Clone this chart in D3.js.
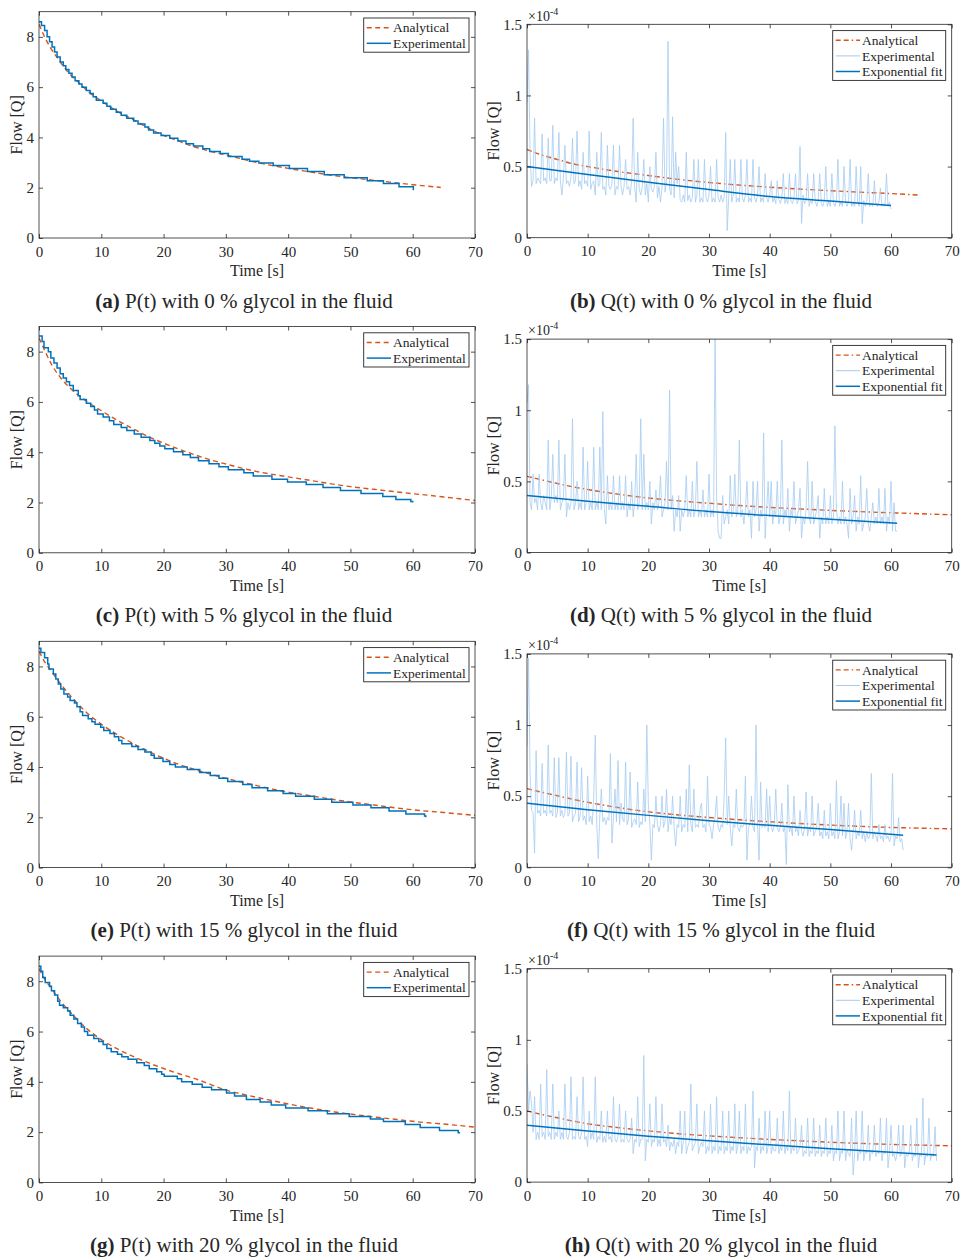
<!DOCTYPE html>
<html>
<head>
<meta charset="utf-8">
<script src="https://cdn.jsdelivr.net/npm/d3@7"></script>
<style>
  body { margin: 0; background: #fff; }
  svg text { font-family: "Liberation Serif", "Times New Roman", serif; fill: #262626; }
</style>
</head>
<body>
<script>
// ---- tick values ----
var timeTicks = [0, 10, 20, 30, 40, 50, 60, 70];
var pFlowTicks = [0, 2, 4, 6, 8];
var qFlowTicks = [0, 0.5, 1, 1.5];

// ---- captions ----
var glycolLevels = [0, 5, 15, 20];
var pLetters = ["a", "c", "e", "g"];
var qLetters = ["b", "d", "f", "h"];

// ---- P(t) analytical curves [t, flow] ----
var pAnalytical0 = [[0,8.5],[1,7.95],[2,7.5],[3,7.15],[4,6.8],[5,6.5],[6.5,6.15],[8,5.8],[10,5.45],[12.5,5.05],[15,4.72],
  [17.5,4.38],[20,4.08],[22.5,3.85],[25,3.62],[27.5,3.45],[30,3.3],[32.5,3.15],[35,3.0],[37.5,2.88],[40,2.77],
  [42.5,2.67],[45,2.57],[47.5,2.48],[50,2.4],[52.5,2.33],[55,2.26],[57.5,2.19],[60,2.12],[62.5,2.06],[64.5,2.01]];
var pAnalytical1 = [[0,8.55],[1,8.0],[2,7.5],[3.5,6.95],[5,6.55],[7.5,6.05],[10,5.65],[12.5,5.28],[15,4.95],[17.5,4.63],
  [20,4.36],[22.5,4.12],[25,3.9],[27.5,3.7],[30,3.53],[32.5,3.37],[35,3.23],[37.5,3.12],[40,3.02],[42.5,2.92],
  [45,2.82],[47.5,2.72],[50,2.63],[52.5,2.56],[55,2.49],[57.5,2.42],[60,2.35],[62.5,2.29],[65,2.22],[67.5,2.15],[70,2.08]];
var pAnalytical2 = [[0,8.6],[1,8.15],[2,7.8],[3.5,7.3],[5,6.85],[7.5,6.2],[10,5.7],[12.5,5.3],[15,4.95],[17.5,4.63],
  [20,4.35],[22.5,4.1],[25,3.9],[27.5,3.72],[30,3.55],[32.5,3.4],[35,3.26],[37.5,3.12],[40,3.0],[42.5,2.9],
  [45,2.8],[47.5,2.7],[50,2.61],[52.5,2.53],[55,2.45],[57.5,2.37],[60,2.3],[62.5,2.24],[65,2.19],[67.5,2.13],[70,2.08]];
var pAnalytical3 = [[0,8.5],[1,8.05],[2.2,7.64],[3.5,7.2],[5,6.78],[7.5,6.15],[10,5.68],[12.5,5.32],[15,5.02],[17.5,4.76],
  [20,4.53],[22.5,4.32],[25,4.13],[27.5,3.9],[30,3.67],[32.5,3.52],[35,3.38],[37.5,3.25],[40,3.12],[42.5,3.0],
  [45,2.9],[47.5,2.8],[50,2.72],[52.5,2.64],[55,2.57],[57.5,2.5],[60,2.43],[62.5,2.37],[65,2.32],[67.5,2.26],[70,2.2]];

// ---- P(t) experimental (stepped) [t, flow] ----
var pExperimental0 = [[0,8.6],[0.4,8.45],[0.9,8.25],[1.3,8.0],[1.7,7.8],[2.1,7.6],[2.5,7.4],[2.9,7.2],[3.4,7.0],[3.9,6.85],
  [4.3,6.7],[4.8,6.55],[5.3,6.4],[5.8,6.25],[6.4,6.12],[6.9,6.0],[7.6,5.87],[8.2,5.75],[8.7,5.62],[9.2,5.48],
  [10.3,5.36],[10.9,5.24],[11.5,5.12],[12.4,5.0],[13.2,4.88],[14.1,4.76],[15.2,4.65],[15.9,4.53],[17.0,4.41],[17.6,4.3],
  [18.4,4.18],[19.6,4.08],[21.0,3.97],[22.3,3.86],[23.6,3.75],[24.8,3.66],[26.3,3.55],[27.4,3.44],[29.1,3.36],[30.4,3.24],
  [32.6,3.13],[33.8,3.05],[35.3,2.98],[37.6,2.88],[40.2,2.76],[43.1,2.64],[45.8,2.52],[49.0,2.4],[52.7,2.28],[55.3,2.17],
  [57.8,2.04],[60.1,1.93],[60.2,1.93]];
var pExperimental1 = [[0,8.62],[0.5,8.4],[0.8,8.15],[1.5,8.0],[1.9,7.75],[2.4,7.55],[2.9,7.35],[3.4,7.12],[3.9,6.95],[4.4,6.8],
  [4.9,6.65],[5.5,6.45],[6.3,6.25],[6.6,6.1],[7.6,5.95],[8.3,5.82],[8.9,5.68],[9.4,5.52],[10.3,5.4],[11.3,5.25],
  [12.0,5.1],[13.2,4.98],[14.1,4.86],[15.3,4.72],[16.4,4.6],[17.8,4.47],[18.6,4.36],[19.4,4.25],[20.2,4.14],[21.6,4.02],
  [23.1,3.9],[24.3,3.79],[25.6,3.66],[27.3,3.54],[28.9,3.42],[30.4,3.3],[32.9,3.18],[34.4,3.05],[37.4,2.93],[39.9,2.82],
  [42.9,2.72],[45.6,2.6],[48.4,2.48],[51.7,2.36],[55.2,2.24],[57.3,2.12],[59.7,2.04],[60,2.0]];
var pExperimental2 = [[0,8.72],[0.3,8.55],[0.9,8.35],[1.4,8.1],[1.6,7.9],[2.3,7.7],[2.7,7.5],[3.1,7.3],[3.5,7.1],[4.0,6.9],
  [4.6,6.78],[5.0,6.65],[5.7,6.55],[6.1,6.4],[6.6,6.2],[7.0,6.05],[7.9,5.92],[8.5,5.8],[9.0,5.7],[9.9,5.58],
  [10.4,5.45],[11.4,5.33],[12.1,5.2],[12.8,5.05],[13.3,4.93],[14.9,4.82],[15.9,4.7],[17.0,4.6],[18.0,4.47],[18.5,4.35],
  [19.9,4.22],[21.0,4.1],[21.9,4.0],[23.8,3.9],[25.8,3.78],[27.5,3.66],[28.9,3.55],[30.3,3.42],[32.7,3.3],[34.2,3.18],
  [36.7,3.06],[39.2,2.95],[41.2,2.84],[44.2,2.72],[47.0,2.6],[50.4,2.49],[53.3,2.38],[56.2,2.25],[58.9,2.13],[61.9,2.05],[62.1,2.0]];
var pExperimental3 = [[0,8.6],[0.3,8.4],[0.6,8.15],[1.0,7.95],[1.7,7.8],[2.0,7.62],[2.5,7.45],[3.0,7.2],[3.3,7.05],[3.9,6.95],
  [4.6,6.82],[5.0,6.65],[5.6,6.5],[6.2,6.32],[6.8,6.18],[7.3,6.0],[7.8,5.85],[8.8,5.72],[9.6,5.6],[10.3,5.48],
  [10.9,5.33],[11.6,5.2],[12.6,5.1],[13.3,5.0],[14.3,4.9],[15.7,4.76],[16.9,4.65],[17.7,4.52],[18.9,4.4],[19.7,4.3],
  [20.1,4.22],[22.2,4.12],[22.9,4.0],[24.6,3.9],[26.2,3.78],[27.7,3.68],[30.1,3.56],[31.4,3.44],[33.3,3.3],[35.5,3.2],
  [37.3,3.08],[39.6,2.96],[43.2,2.85],[46.3,2.73],[49.8,2.62],[53.2,2.52],[55.3,2.42],[58.8,2.3],[61.2,2.18],[64.3,2.06],
  [67.3,1.97],[67.5,1.95]];

// ---- Q(t) analytical curves [t, flow x1e-4] ----
var qAnalytical0 = [[0,0.62],[2.5,0.58],[5,0.55],[7.5,0.52],[10,0.5],[15,0.465],[20,0.437],[25,0.41],[30,0.388],[35,0.37],
  [40,0.355],[45,0.342],[50,0.33],[55,0.32],[60,0.31],[64.5,0.3]];
var qAnalytical1 = [[0,0.535],[2.5,0.51],[5,0.485],[7.5,0.462],[10,0.443],[15,0.41],[20,0.383],[25,0.363],[30,0.346],[35,0.33],
  [40,0.317],[45,0.306],[50,0.296],[55,0.287],[60,0.279],[65,0.272],[70,0.265]];
var qAnalytical2 = [[0,0.553],[2.5,0.527],[5,0.503],[7.5,0.478],[10,0.457],[15,0.42],[20,0.39],[25,0.368],[30,0.35],[35,0.334],
  [40,0.32],[45,0.308],[50,0.297],[55,0.288],[60,0.28],[65,0.275],[70,0.27]];
var qAnalytical3 = [[0,0.5],[2.5,0.475],[5,0.452],[7.5,0.43],[10,0.41],[15,0.383],[20,0.36],[25,0.34],[30,0.325],[35,0.312],
  [40,0.3],[45,0.29],[50,0.28],[55,0.272],[60,0.265],[65,0.26],[70,0.255]];

// ---- Q(t) exponential fits [t, flow x1e-4] ----
var qFit0 = [[0,0.5],[10,0.445],[20,0.39],[30,0.338],[40,0.29],[50,0.258],[60,0.227]];
var qFit1 = [[0,0.4],[10,0.36],[20,0.325],[30,0.288],[40,0.26],[50,0.233],[61,0.205]];
var qFit2 = [[0,0.45],[10,0.405],[20,0.365],[30,0.328],[40,0.295],[50,0.265],[62,0.225]];
var qFit3 = [[0,0.4],[10,0.36],[20,0.322],[30,0.29],[40,0.262],[50,0.235],[60,0.21],[67.5,0.19]];

// ---- Q(t) experimental samples (flow x1e-4), one value every qSampleStep seconds ----
var qSampleStep = 0.25;
var qExperimental0 = [
  0.95,1.32,0.60,0.36, 0.40,0.84,0.38,0.42, 0.40,0.38,0.73,0.40, 0.42,0.38,0.70,0.40, 0.40,0.79,0.38,0.42,
  0.40,0.74,0.40,0.30, 0.42,0.65,0.38,0.40, 0.36,0.42,0.70,0.38, 0.40,0.75,0.36,0.40, 0.34,0.60,0.38,0.40,
  0.36,0.75,0.34,0.38, 0.40,0.30,0.60,0.36, 0.38,0.74,0.34,0.36, 0.30,0.65,0.36,0.34, 0.38,0.65,0.30,0.36,
  0.34,0.65,0.36,0.30, 0.36,0.55,0.34,0.36, 0.30,0.40,0.84,0.35, 0.25,0.60,0.34,0.30, 0.36,0.55,0.30,0.38,
  0.25,0.50,0.34,0.32, 0.36,0.60,0.28,0.36, 0.25,0.35,0.84,0.32, 0.40,1.38,0.35,0.30, 0.85,0.28,0.60,0.38,
  0.50,0.26,0.25,0.30, 0.25,0.60,0.26,0.30, 0.25,0.28,0.55,0.25, 0.30,0.55,0.25,0.28, 0.25,0.55,0.28,0.25,
  0.30,0.50,0.25,0.28, 0.25,0.55,0.28,0.25, 0.30,0.25,0.28,0.74, 0.05,0.28,0.55,0.25, 0.30,0.55,0.25,0.28,
  0.25,0.55,0.28,0.25, 0.30,0.55,0.25,0.28, 0.25,0.55,0.28,0.25, 0.30,0.50,0.25,0.28, 0.25,0.45,0.28,0.25,
  0.30,0.40,0.25,0.28, 0.24,0.40,0.27,0.24, 0.28,0.45,0.24,0.27, 0.24,0.45,0.26,0.24, 0.28,0.45,0.24,0.26,
  0.64,0.10,0.30,0.24, 0.26,0.45,0.22,0.26, 0.24,0.45,0.26,0.22, 0.26,0.45,0.24,0.22, 0.26,0.50,0.22,0.26,
  0.22,0.45,0.25,0.22, 0.26,0.55,0.22,0.25, 0.22,0.50,0.25,0.22, 0.26,0.55,0.22,0.24, 0.22,0.50,0.25,0.22,
  0.50,0.10,0.26,0.22, 0.25,0.45,0.22,0.24, 0.22,0.40,0.24,0.22, 0.25,0.35,0.22,0.24, 0.22,0.45,0.22,0.25,
  0.20];
var qExperimental1 = [
  1.05,1.18,0.35,0.30, 0.55,0.35,0.38,0.30, 0.55,0.35,0.30,0.40, 0.35,0.30,0.79,0.30, 0.38,0.69,0.35,0.40,
  0.35,0.79,0.30,0.35, 0.38,0.69,0.25,0.35, 0.30,0.35,0.94,0.30, 0.35,0.50,0.30,0.35, 0.30,0.74,0.30,0.35,
  0.64,0.30,0.35,0.30, 0.74,0.30,0.35,0.30, 0.74,0.30,0.99,0.30, 0.20,0.54,0.30,0.35, 0.30,0.54,0.30,0.35,
  0.30,0.54,0.30,0.35, 0.30,0.54,0.25,0.35, 0.30,0.50,0.25,0.35, 0.69,0.30,0.35,0.94, 0.30,0.69,0.30,0.35,
  0.30,0.50,0.20,0.35, 0.30,0.44,0.30,0.35, 0.54,0.25,0.30,0.35, 0.64,0.30,1.14,0.30, 0.40,0.15,0.30,0.25,
  0.40,0.15,0.30,0.25, 0.30,0.54,0.25,0.30, 0.25,0.50,0.25,0.30, 0.64,0.25,0.30,0.25, 0.44,0.25,0.30,0.25,
  0.55,0.25,0.30,0.25, 1.50,0.40,0.15,0.10, 0.10,0.40,0.20,0.25, 0.30,0.20,0.54,0.25, 0.30,0.55,0.25,0.30,
  0.79,0.25,0.30,0.20, 0.30,0.50,0.25,0.30, 0.10,0.50,0.25,0.30, 0.50,0.15,0.30,0.25, 0.84,0.10,0.30,0.50,
  0.25,0.50,0.20,0.30, 0.25,0.50,0.20,0.25, 0.79,0.20,0.30,0.25, 0.45,0.15,0.30,0.25, 0.50,0.20,0.25,0.30,
  0.45,0.10,0.25,0.20, 0.30,0.64,0.25,0.20, 0.50,0.20,0.25,0.30, 0.40,0.10,0.25,0.20, 0.45,0.20,0.25,0.20,
  0.40,0.20,0.25,0.89, 0.30,0.20,0.25,0.20, 0.50,0.20,0.25,0.20, 0.10,0.45,0.20,0.25, 0.40,0.15,0.25,0.20,
  0.54,0.15,0.20,0.25, 0.45,0.20,0.15,0.25, 0.35,0.20,0.25,0.20, 0.45,0.20,0.25,0.20, 0.45,0.15,0.25,0.20,
  0.50,0.15,0.35,0.15, 0.15];
var qExperimental2 = [
  0.85,1.47,0.68,0.40, 0.38,0.10,0.82,0.38, 0.40,0.36,0.73,0.38, 0.40,0.36,0.86,0.38, 0.40,0.36,0.77,0.35,
  0.38,0.77,0.36,0.40, 0.35,0.38,0.81,0.36, 0.38,0.78,0.32,0.36, 0.38,0.74,0.32,0.36, 0.70,0.33,0.36,0.30,
  0.64,0.32,0.36,0.30, 0.50,0.93,0.30,0.06, 0.36,0.55,0.32,0.35, 0.30,0.35,0.33,0.80, 0.17,0.35,0.55,0.32,
  0.75,0.30,0.45,0.34, 0.32,0.74,0.30,0.34, 0.67,0.28,0.32,0.34, 0.30,0.60,0.28,0.32, 0.30,0.55,0.32,1.00,
  0.45,0.30,0.05,0.30, 0.28,0.50,0.30,0.25, 0.30,0.50,0.28,0.32, 0.55,0.25,0.35,0.30, 0.50,0.28,0.15,0.30,
  0.28,0.50,0.25,0.30, 0.28,0.55,0.25,0.72, 0.30,0.25,0.55,0.28, 0.30,0.28,0.40,0.45, 0.28,0.30,0.25,0.64,
  0.30,0.28,0.20,0.30, 0.35,0.50,0.28,0.25, 0.30,0.28,0.50,0.91, 0.30,0.50,0.28,0.15, 0.30,0.28,0.55,0.28,
  0.25,0.30,0.28,0.30, 0.64,0.05,0.28,0.30, 0.50,0.28,0.25,1.00, 0.30,0.05,0.60,0.28, 0.30,0.28,0.55,0.25,
  0.50,0.28,0.25,0.30, 0.55,0.28,0.25,0.28, 0.45,0.25,0.28,0.02, 0.58,0.25,0.28,0.22, 0.50,0.25,0.28,0.22,
  0.40,0.25,0.22,0.28, 0.53,0.22,0.28,0.25, 0.50,0.22,0.25,0.28, 0.45,0.22,0.25,0.20, 0.40,0.22,0.25,0.20,
  0.45,0.22,0.25,0.20, 0.61,0.20,0.25,0.50, 0.22,0.45,0.20,0.25, 0.45,0.20,0.12,0.25, 0.40,0.20,0.25,0.22,
  0.40,0.20,0.25,0.18, 0.25,0.20,0.22,0.66, 0.20,0.25,0.22,0.18, 0.30,0.20,0.22,0.18, 0.30,0.20,0.22,0.18,
  0.22,0.66,0.15,0.22, 0.20,0.35,0.18,0.20, 0.12];
var qExperimental3 = [
  0.83,0.50,0.64,0.55, 0.35,0.60,0.30,0.35, 0.30,0.69,0.32,0.35, 0.30,0.79,0.32,0.35, 0.30,0.69,0.30,0.35,
  0.32,0.50,0.30,0.35, 0.30,0.69,0.32,0.30, 0.35,0.74,0.30,0.32, 0.30,0.60,0.32,0.30, 0.35,0.74,0.30,0.32,
  0.25,0.50,0.30,0.35, 0.30,0.74,0.28,0.32, 0.30,0.50,0.28,0.32, 0.28,0.50,0.30,0.32, 0.28,0.60,0.30,0.28,
  0.32,0.55,0.28,0.30, 0.28,0.50,0.30,0.28, 0.30,0.45,0.20,0.30, 0.28,0.60,0.25,0.30, 0.30,0.89,0.15,0.30,
  0.28,0.55,0.25,0.30, 0.28,0.60,0.25,0.30, 0.25,0.55,0.28,0.30, 0.25,0.40,0.22,0.28, 0.25,0.30,0.20,0.28,
  0.25,0.50,0.20,0.28, 0.50,0.20,0.25,0.28, 0.69,0.22,0.25,0.28, 0.55,0.20,0.25,0.28, 0.25,0.50,0.20,0.25,
  0.22,0.55,0.20,0.25, 0.22,0.60,0.20,0.25, 0.22,0.50,0.20,0.25, 0.22,0.50,0.20,0.25, 0.22,0.55,0.20,0.25,
  0.50,0.20,0.25,0.22, 0.55,0.20,0.25,0.22, 0.25,0.64,0.10,0.25, 0.22,0.45,0.20,0.25, 0.22,0.50,0.20,0.25,
  0.50,0.20,0.25,0.22, 0.22,0.45,0.20,0.25, 0.22,0.50,0.20,0.25, 0.22,0.64,0.20,0.25, 0.22,0.45,0.20,0.22,
  0.25,0.40,0.18,0.22, 0.20,0.45,0.18,0.22, 0.20,0.45,0.18,0.22, 0.20,0.40,0.18,0.22, 0.20,0.45,0.18,0.22,
  0.20,0.40,0.15,0.22, 0.20,0.50,0.15,0.22, 0.20,0.50,0.15,0.22, 0.20,0.18,0.45,0.05, 0.20,0.50,0.15,0.22,
  0.20,0.50,0.15,0.22, 0.20,0.40,0.15,0.22, 0.20,0.40,0.18,0.22, 0.20,0.45,0.15,0.22, 0.20,0.45,0.10,0.20,
  0.40,0.18,0.20,0.15, 0.20,0.40,0.18,0.20, 0.40,0.10,0.20,0.18, 0.20,0.40,0.15,0.20, 0.18,0.45,0.10,0.20,
  0.18,0.59,0.12,0.20, 0.18,0.45,0.15,0.20, 0.18,0.39,0.15];

var pAnalytical = [pAnalytical0, pAnalytical1, pAnalytical2, pAnalytical3];
var pExperimental = [pExperimental0, pExperimental1, pExperimental2, pExperimental3];
var qAnalytical = [qAnalytical0, qAnalytical1, qAnalytical2, qAnalytical3];
var qFit = [qFit0, qFit1, qFit2, qFit3];
var qExperimental = [qExperimental0, qExperimental1, qExperimental2, qExperimental3];

// ---- layout ----
var width = 964, height = 1260;
var rowStep = 314.8;
var pFrame = {left: 39, top: 11.7, width: 436, height: 226.3, captionX: 244};
var qFrame = {left: 527, top: 24.3, width: 424.7, height: 213.4, captionX: 721};

var colorAnalytical = "#D95319",
    colorExperimental = "#0072BD",
    colorNoisy = "#a6cbf0",
    axisColor = "#262626";

var qDash = "5,3,5,3,1.5,3";

var svg = d3.select("body").append("svg")
    .attr("width", width)
    .attr("height", height);

var defs = svg.append("defs");

function drawAxes(g, x, y, yTicks, frame){
    var fmt = d3.format("~g");
    var bottom = g.append("g")
        .attr("transform", "translate(0," + frame.height + ")")
        .call(d3.axisBottom(x).tickValues(timeTicks).tickSize(-4).tickPadding(8).tickFormat(fmt));
    var top = g.append("g")
        .call(d3.axisTop(x).tickValues(timeTicks).tickSize(-4).tickFormat(""));
    var left = g.append("g")
        .call(d3.axisLeft(y).tickValues(yTicks).tickSize(-4).tickPadding(5).tickFormat(fmt));
    var right = g.append("g")
        .attr("transform", "translate(" + frame.width + ",0)")
        .call(d3.axisRight(y).tickValues(yTicks).tickSize(-4).tickFormat(""));

    [bottom, top, left, right].forEach(function(a){
        a.select(".domain").remove();
        a.selectAll(".tick line").attr("stroke", axisColor).attr("stroke-width", 0.8);
        a.attr("font-size", 15).attr("font-family", null);
        a.selectAll("text").attr("fill", "#333");
    });

    //box round the plot area
    g.append("rect")
        .attr("width", frame.width)
        .attr("height", frame.height)
        .attr("fill", "none")
        .attr("stroke", axisColor)
        .attr("stroke-width", 0.8);
}

function drawLabels(g, frame, row, letter, kind, labelOffset){
    g.append("text")
        .attr("x", frame.width / 2)
        .attr("y", frame.height + 38.5)
        .attr("text-anchor", "middle")
        .attr("font-size", 16)
        .text("Time [s]");

    g.append("text")
        .attr("transform", "translate(" + (-labelOffset) + "," + (frame.height / 2) + ") rotate(-90)")
        .attr("text-anchor", "middle")
        .attr("font-size", 16)
        .text("Flow [Q]");

    var caption = svg.append("text")
        .attr("x", frame.captionX)
        .attr("y", 307.5 + row * rowStep)
        .attr("text-anchor", "middle")
        .attr("font-size", 21);
    caption.append("tspan").attr("font-weight", "bold").text("(" + letter + ")");
    caption.append("tspan").text(" " + kind + "(t) with " + glycolLevels[row] + " % glycol in the fluid");
}

function drawLegend(g, frame, entries, boxW){
    var rowH = 15.6;
    var boxH = entries.length * rowH + 3;
    var lg = g.append("g")
        .attr("transform", "translate(" + (frame.width - 6 - boxW) + ",6.3)");
    lg.append("rect")
        .attr("width", boxW)
        .attr("height", boxH)
        .attr("fill", "#fff")
        .attr("stroke", axisColor)
        .attr("stroke-width", 0.9);
    entries.forEach(function(e, i){
        var yy = 9.7 + i * rowH;
        lg.append("line")
            .attr("x1", 3).attr("x2", 27.3)
            .attr("y1", yy).attr("y2", yy)
            .attr("stroke", e.color)
            .attr("stroke-width", e.width)
            .attr("stroke-dasharray", e.dash || null);
        lg.append("text")
            .attr("x", 29.3)
            .attr("y", yy)
            .attr("dy", "0.35em")
            .attr("font-size", 13.5)
            .text(e.label);
    });
}

function clipFor(id, frame){
    defs.append("clipPath").attr("id", id)
        .append("rect")
        .attr("width", frame.width)
        .attr("height", frame.height);
    return "url(#" + id + ")";
}

// ---- P(t) panels ----
pLetters.forEach(function(letter, row){
    var frame = pFrame;
    var g = svg.append("g")
        .attr("transform", "translate(" + frame.left + "," + (frame.top + row * rowStep) + ")");

    var x = d3.scaleLinear().domain([0, 70]).range([0, frame.width]);
    var y = d3.scaleLinear().domain([0, 9]).range([frame.height, 0]);

    var plot = g.append("g").attr("clip-path", clipFor("clipP" + row, frame));

    var smooth = d3.line()
        .x(function(d){ return x(d[0]); })
        .y(function(d){ return y(d[1]); })
        .curve(d3.curveMonotoneX);
    var stairs = d3.line()
        .x(function(d){ return x(d[0]); })
        .y(function(d){ return y(d[1]); })
        .curve(d3.curveStepAfter);

    plot.append("path")
        .datum(pAnalytical[row])
        .attr("d", smooth)
        .attr("fill", "none")
        .attr("stroke", colorAnalytical)
        .attr("stroke-width", 1.4)
        .attr("stroke-dasharray", "5,3.5");

    plot.append("path")
        .datum(pExperimental[row])
        .attr("d", stairs)
        .attr("fill", "none")
        .attr("stroke", colorExperimental)
        .attr("stroke-width", 1.5);

    drawAxes(g, x, y, pFlowTicks, frame);
    drawLegend(g, frame, [
        {label: "Analytical", color: colorAnalytical, width: 1.4, dash: "5,3.5"},
        {label: "Experimental", color: colorExperimental, width: 1.5}
    ], 105.3);
    drawLabels(g, frame, row, letter, "P", 17);
});

// ---- Q(t) panels ----
qLetters.forEach(function(letter, row){
    var frame = qFrame;
    var g = svg.append("g")
        .attr("transform", "translate(" + frame.left + "," + (frame.top + row * rowStep) + ")");

    var x = d3.scaleLinear().domain([0, 70]).range([0, frame.width]);
    var y = d3.scaleLinear().domain([0, 1.5]).range([frame.height, 0]);

    var plot = g.append("g").attr("clip-path", clipFor("clipQ" + row, frame));

    var smooth = d3.line()
        .x(function(d){ return x(d[0]); })
        .y(function(d){ return y(d[1]); })
        .curve(d3.curveMonotoneX);
    var samples = d3.line()
        .x(function(d, i){ return x(i * qSampleStep); })
        .y(function(d){ return y(d); });

    plot.append("path")
        .datum(qAnalytical[row])
        .attr("d", smooth)
        .attr("fill", "none")
        .attr("stroke", colorAnalytical)
        .attr("stroke-width", 1.4)
        .attr("stroke-dasharray", qDash);

    plot.append("path")
        .datum(qExperimental[row])
        .attr("d", samples)
        .attr("fill", "none")
        .attr("stroke", colorNoisy)
        .attr("stroke-width", 0.8);

    plot.append("path")
        .datum(qFit[row])
        .attr("d", smooth)
        .attr("fill", "none")
        .attr("stroke", colorExperimental)
        .attr("stroke-width", 1.5);

    drawAxes(g, x, y, qFlowTicks, frame);

    //exponent label above the y axis
    var expo = g.append("text")
        .attr("x", 1)
        .attr("y", -3.8)
        .attr("font-size", 14)
        .attr("fill", "#333");
    expo.append("tspan").text("\u00d710");
    expo.append("tspan").attr("font-size", 10).attr("dy", -6).text("-4");

    drawLegend(g, frame, [
        {label: "Analytical", color: colorAnalytical, width: 1.4, dash: qDash},
        {label: "Experimental", color: colorNoisy, width: 1},
        {label: "Exponential fit", color: colorExperimental, width: 1.5}
    ], 113);
    drawLabels(g, frame, row, letter, "Q", 28);
});
</script>
</body>
</html>
